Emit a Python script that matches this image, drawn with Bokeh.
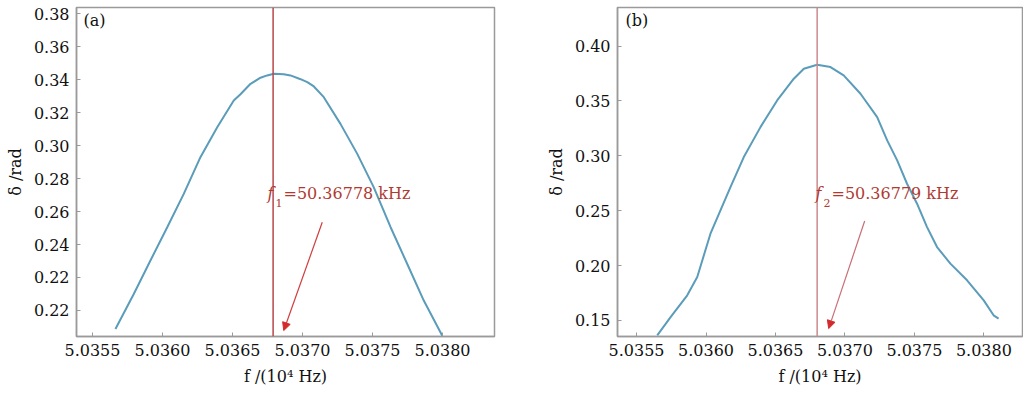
from bokeh.plotting import figure
from bokeh.layouts import row
from bokeh.models import Range1d, FixedTicker, Label, Arrow, NormalHead, Span
from bokeh.embed import file_html
from bokeh.resources import INLINE

# ---- data panel (a) ----
f_a = [5.035664, 5.035795, 5.035914, 5.036034, 5.036152, 5.036271, 5.036391, 5.036509,
       5.036557, 5.036629, 5.036700, 5.036748, 5.036795, 5.036866, 5.036914, 5.036986,
       5.037034, 5.037081, 5.037152, 5.037271, 5.037391,
       5.037509, 5.037629, 5.037748, 5.037866, 5.037998]
delta_a = [0.1888, 0.2100, 0.2303, 0.2505, 0.2707, 0.2930, 0.3112, 0.3274,
           0.3312, 0.3375, 0.3412, 0.3426, 0.3436, 0.3433, 0.3426, 0.3403,
           0.3385, 0.3359, 0.3294, 0.3132, 0.2950,
           0.2747, 0.2505, 0.2282, 0.2060, 0.1847]
# ---- data panel (b) ----
f_b = [5.035649, 5.035745, 5.035865, 5.035937, 5.036032, 5.036104, 5.036176, 5.036272,
       5.036392, 5.036512, 5.036632, 5.036704, 5.036800, 5.036896, 5.036991, 5.037112,
       5.037232, 5.037304, 5.037376, 5.037447, 5.037519, 5.037591, 5.037663, 5.037759,
       5.037879, 5.037999, 5.038070, 5.038106]
delta_b = [0.1365, 0.1531, 0.1729, 0.1896, 0.2291, 0.2503, 0.2716, 0.2989,
           0.3262, 0.3505, 0.3703, 0.3794, 0.3831, 0.3809, 0.3733, 0.3566,
           0.3353, 0.3141, 0.2959, 0.2746, 0.2564, 0.2351, 0.2169, 0.2018,
           0.1866, 0.1683, 0.1547, 0.1517]

x_ticks = [5.0355, 5.0360, 5.0365, 5.0370, 5.0375, 5.0380]
x_tick_labels = ["5.0355", "5.0360", "5.0365", "5.0370", "5.0375", "5.0380"]
y_ticks_a = [0.20, 0.22, 0.24, 0.26, 0.28, 0.30, 0.32, 0.34, 0.36, 0.38]
y_tick_labels_a = ["0.22", "0.22", "0.24", "0.26", "0.28", "0.30", "0.32", "0.34", "0.36", "0.38"]
y_ticks_b = [0.15, 0.20, 0.25, 0.30, 0.35, 0.40]
y_tick_labels_b = ["0.15", "0.20", "0.25", "0.30", "0.35", "0.40"]

peak_a = 5.03679
peak_b = 5.03680
label_a = "=50.36778 kHz"
label_b = "=50.36779 kHz"

FONT = "DejaVu Serif"
CURVE = "#5a9cba"
AXIS = "#9a9a9a"
TXT = "#111111"


def make_panel(width, bl, br, xr, yr, yticks, ylabels, f, d, peak, sub, lab,
               tx, ty, arrow, tag, tagpos, vcolor, acolor):
    p = figure(width=width, height=390, output_backend="svg", toolbar_location=None,
               x_range=Range1d(*xr), y_range=Range1d(*yr),
               min_border_left=bl, min_border_right=br, min_border_top=7, min_border_bottom=54)
    p.grid.visible = False
    p.outline_line_color = AXIS
    p.outline_line_width = 1.5
    p.background_fill_color = "white"
    p.border_fill_color = "white"
    for ax in (p.xaxis[0], p.yaxis[0]):
        ax.axis_line_color = AXIS
        ax.axis_line_width = 1.5
        ax.major_tick_line_color = AXIS
        ax.major_tick_in = 4
        ax.major_tick_out = 0
        ax.minor_tick_line_color = None
        ax.major_label_text_font = FONT
        ax.major_label_text_font_size = "16px"
        ax.major_label_text_color = TXT
        ax.axis_label_text_font = FONT
        ax.axis_label_text_font_size = "16px"
        ax.axis_label_text_font_style = "normal"
        ax.axis_label_text_color = TXT
    p.xaxis.ticker = FixedTicker(ticks=x_ticks)
    p.xaxis.major_label_overrides = dict(zip(x_ticks, x_tick_labels))
    p.yaxis.ticker = FixedTicker(ticks=yticks)
    p.yaxis.major_label_overrides = dict(zip(yticks, ylabels))
    p.xaxis.major_label_standoff = 7
    p.yaxis.major_label_standoff = 7
    p.xaxis.axis_label = "f /(10⁴ Hz)"
    p.yaxis.axis_label = "δ /rad"
    p.xaxis.axis_label_standoff = 8
    p.yaxis.axis_label_standoff = 6

    p.line(f, d, line_color=CURVE, line_width=2)
    p.add_layout(Span(location=peak, dimension="height", line_color=vcolor, line_width=1.5))

    p.add_layout(Label(x=tx, y=ty, text="f", text_font=FONT, text_font_style="italic",
                       text_font_size="16px", text_color="#b03a32"))
    p.add_layout(Label(x=tx, y=ty, x_offset=8, y_offset=-4, text=sub, text_font=FONT,
                       text_font_size="11px", text_color="#b03a32"))
    p.add_layout(Label(x=tx, y=ty, x_offset=16, text=lab, text_font=FONT,
                       text_font_size="16px", text_color="#b03a32"))
    p.add_layout(Arrow(x_start=arrow[0], y_start=arrow[1], x_end=arrow[2], y_end=arrow[3],
                       line_color=acolor, line_width=1.2,
                       end=NormalHead(size=8, fill_color="#d42a2a", line_color="#d42a2a")))
    p.add_layout(Label(x=tagpos[0], y=tagpos[1], text=tag, text_font=FONT,
                       text_font_size="16px", text_color=TXT, text_baseline="middle"))
    return p


pa = make_panel(520, 76, 26, (5.035386, 5.038371), (0.1842, 0.3838), y_ticks_a, y_tick_labels_a,
                f_a, delta_a, peak_a, "1", label_a, 5.03675, 0.2649,
                (5.037141, 0.2535, 5.036866, 0.1878), "(a)", (5.035436, 0.3759),
                "#b8474a", "#cf3e3e")
pb = make_panel(503, 97, 1, (5.035363, 5.038278), (0.1354, 0.4352), y_ticks_b, y_tick_labels_b,
                f_b, delta_b, peak_b, "2", label_b, 5.036788, 0.2567,
                (5.037142, 0.2406, 5.036883, 0.1426), "(b)", (5.035421, 0.4234),
                "#cc8a8e", "#c86e76")

layout = row(pa, pb)
open("out.html", "w").write(file_html(layout, INLINE))
